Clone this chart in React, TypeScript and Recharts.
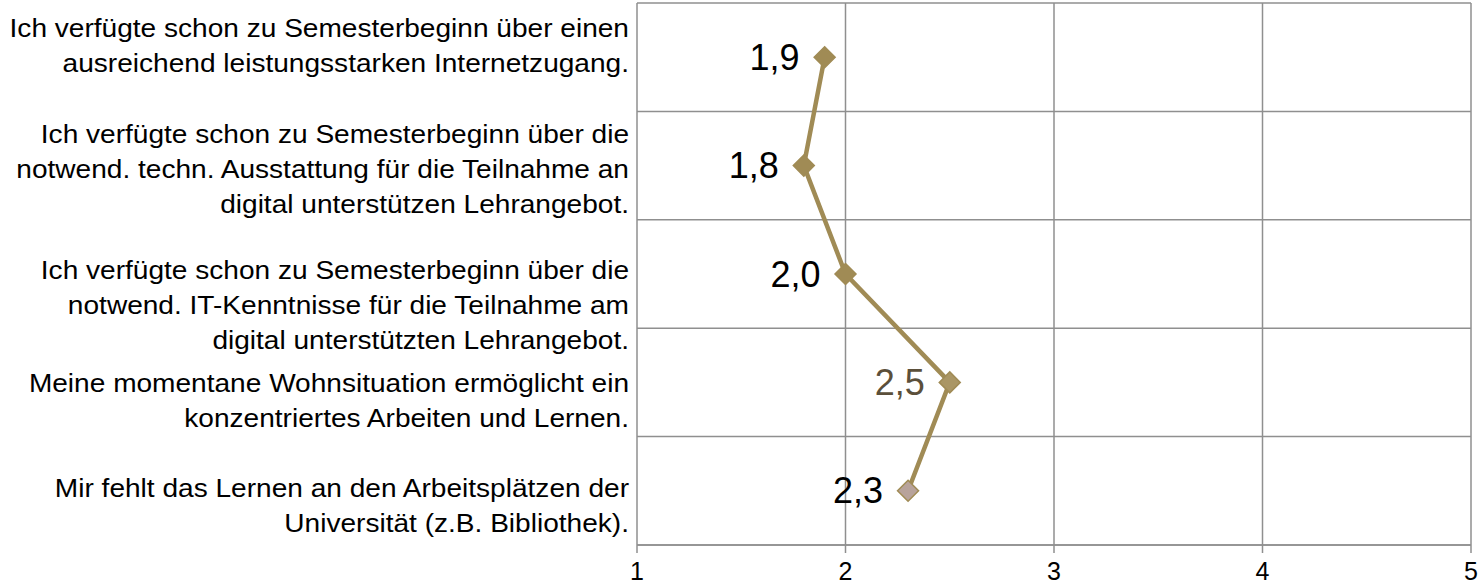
import React from "react";
import { LineChart, Line, XAxis, YAxis, CartesianGrid } from "recharts";

// statements, one per row (line breaks as in the original chart)
const statements = [
  "Ich verfügte schon zu Semesterbeginn über einen\nausreichend leistungsstarken Internetzugang.",
  "Ich verfügte schon zu Semesterbeginn über die\nnotwend. techn. Ausstattung für die Teilnahme an\ndigital unterstützen Lehrangebot.",
  "Ich verfügte schon zu Semesterbeginn über die\nnotwend. IT-Kenntnisse für die Teilnahme am\ndigital unterstützten Lehrangebot.",
  "Meine momentane Wohnsituation ermöglicht ein\nkonzentriertes Arbeiten und Lernen.",
  "Mir fehlt das Lernen an den Arbeitsplätzen der\nUniversität (z.B. Bibliothek).",
];

// mean agreement (1 = trifft voll zu ... 5 = trifft gar nicht zu)
const means = [1.9, 1.8, 2.0, 2.5, 2.3];

const scaleTicks = [1, 2, 3, 4, 5];

const data = statements.map((s, i) => ({ statement: s, mean: means[i] }));

const FONT = "'Liberation Sans', Arial, sans-serif";
const LINE = "#a08b55";
const GRID = "#8f8f8f";
const DOT_FILLS = ["#a08b55", "#a08b55", "#a08b55", "#aa9665", "#b8a39b"];
const LABEL_COLORS = ["#000", "#000", "#000", "#5b4f3a", "#000"];
// small vertical nudges so the wrapped labels sit like in the source
const TICK_NUDGE = [-11, 4, 31, 18, 15];

const fmt = (v: number) => v.toFixed(1).replace(".", ",");

function StatementTick({ x, y, payload, index }: any) {
  const lines = String(payload.value).split("\n");
  const lh = 35;
  const top = y + (TICK_NUDGE[index] || 0) - ((lines.length - 1) * lh) / 2;
  return (
    <text
      x={x}
      y={top}
      textAnchor="end"
      fontFamily={FONT}
      fontSize={26}
      fill="#000"
      dominantBaseline="central"
      transform={`translate(${x},0) scale(1.08,1) translate(${-x},0)`}
    >
      {lines.map((l, i) => (
        <tspan key={i} x={x} y={top + i * lh}>
          {l}
        </tspan>
      ))}
    </text>
  );
}

function ScaleTick({ x, y, payload }: any) {
  return (
    <text
      x={x}
      y={y}
      dy={5}
      textAnchor="middle"
      dominantBaseline="central"
      fontFamily={FONT}
      fontSize={25}
      fill="#000"
    >
      {payload.value}
    </text>
  );
}

function Diamond({ cx, cy, index }: any) {
  const r = 10.5;
  return (
    <path
      d={`M${cx},${cy - r}L${cx + r},${cy}L${cx},${cy + r}L${cx - r},${cy}Z`}
      fill={DOT_FILLS[index]}
      stroke={LINE}
      strokeWidth={1.5}
    />
  );
}

function ValueLabel({ x, y, value, index }: any) {
  return (
    <text
      x={x - 25}
      y={y}
      textAnchor="end"
      dominantBaseline="central"
      fontFamily={FONT}
      fontSize={36}
      fill={LABEL_COLORS[index]}
    >
      {fmt(value)}
    </text>
  );
}

export default function App() {
  return (
    <div style={{ position: "absolute", left: 0, top: 0, background: "#fff" }}>
      <LineChart
        width={1479}
        height={588}
        data={data}
        layout="vertical"
        margin={{ top: 3, right: 8, bottom: 0, left: 0 }}
      >
        <CartesianGrid
          stroke={GRID}
          strokeWidth={1.5}
          horizontalCoordinatesGenerator={({ offset }: any) =>
            statements
              .map((_, i) => offset.top + (i * offset.height) / statements.length)
              .concat(offset.top + offset.height)
          }
        />
        <XAxis
          type="number"
          dataKey="mean"
          domain={[1, 5]}
          ticks={scaleTicks}
          interval={0}
          height={43}
          axisLine={{ stroke: GRID, strokeWidth: 1.5 }}
          tickLine={{ stroke: GRID, strokeWidth: 1.5 }}
          tickSize={8}
          tickMargin={13}
          tick={<ScaleTick />}
        />
        <YAxis
          type="category"
          dataKey="statement"
          scale="band"
          width={637}
          axisLine={false}
          tickLine={false}
          tickSize={0}
          tickMargin={8}
          interval={0}
          tick={<StatementTick />}
        />
        <Line
          dataKey="mean"
          stroke={LINE}
          strokeWidth={4.5}
          dot={<Diamond />}
          activeDot={false}
          label={<ValueLabel />}
          isAnimationActive={false}
        />
      </LineChart>
    </div>
  );
}
